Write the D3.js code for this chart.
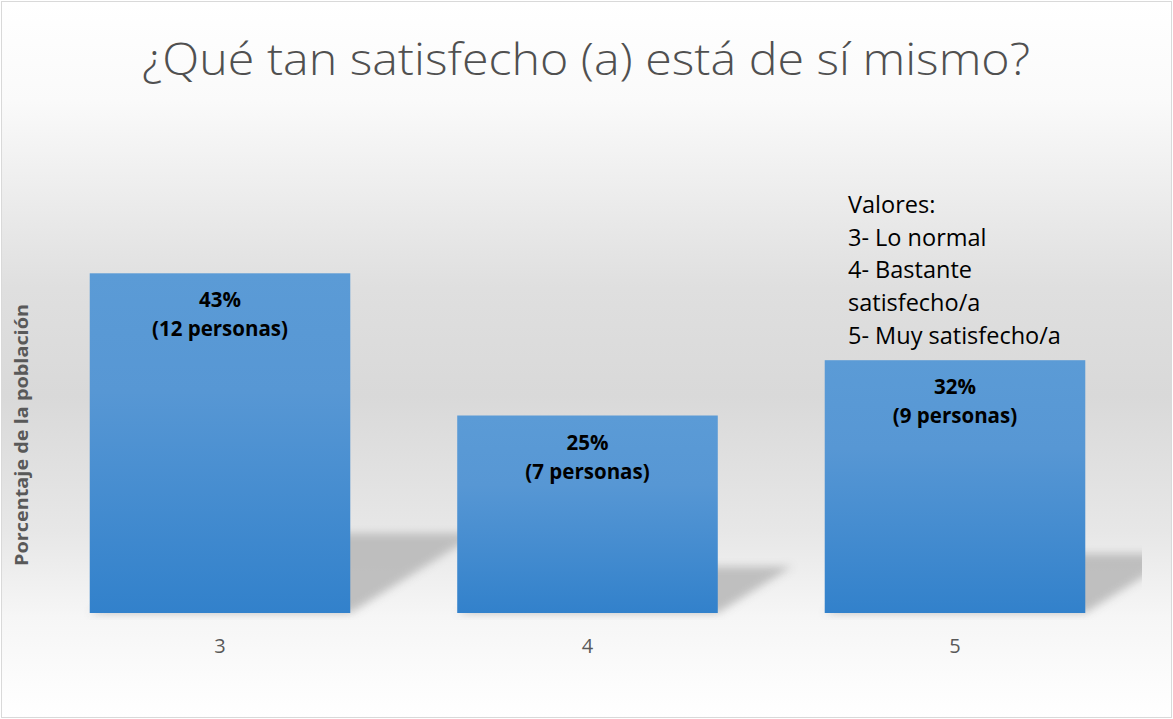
<!DOCTYPE html>
<html>
<head>
<meta charset="utf-8">
<script src="https://cdn.jsdelivr.net/npm/d3@7"></script>
<style>
  html, body { margin: 0; padding: 0; background: #ffffff; }
  svg { display: block; }
</style>
</head>
<body>
<svg id="chart" width="1173" height="719"></svg>
<script>
// ---- Data ----
const categories = ["3", "4", "5"];
const percentages = [43, 25, 32];
const persons = [12, 7, 9];
const titleText = "¿Qué tan satisfecho (a) está de sí mismo?";
const yAxisTitle = "Porcentaje de la población";
const legendLines = ["Valores:", "3- Lo normal", "4- Bastante", "satisfecho/a", "5- Muy satisfecho/a"];

const W = 1173, H = 719;
const svg = d3.select("#chart");
const defs = svg.append("defs");

// background gradient
const bg = defs.append("linearGradient").attr("id", "bgGrad")
  .attr("x1", 0).attr("y1", 0).attr("x2", 0).attr("y2", 1);
[[0, "#ffffff"], [0.14, "#fafafa"], [0.40, "#dfdfdf"], [0.55, "#d9d9d9"],
 [0.74, "#e7e7e7"], [0.86, "#f6f6f6"], [1, "#ffffff"]]
  .forEach(([o, c]) => bg.append("stop").attr("offset", o).attr("stop-color", c));

// bar gradient
const bar = defs.append("linearGradient").attr("id", "barGrad")
  .attr("x1", 0).attr("y1", 0).attr("x2", 0).attr("y2", 1);
[[0, "#5b9bd6"], [0.35, "#5797d4"], [1, "#3281cb"]]
  .forEach(([o, c]) => bar.append("stop").attr("offset", o).attr("stop-color", c));

// shadow blur
const f = defs.append("filter").attr("id", "blur")
  .attr("x", "-20%").attr("y", "-20%").attr("width", "140%").attr("height", "140%");
f.append("feGaussianBlur").attr("stdDeviation", 4.5);

// clip for plot area
defs.append("clipPath").attr("id", "plotClip")
  .append("rect").attr("x", 30).attr("y", 150).attr("width", 1142 - 30).attr("height", 470);

svg.append("rect").attr("x", 1.5).attr("y", 1.5).attr("width", W - 3).attr("height", H - 3)
  .attr("fill", "url(#bgGrad)").attr("stroke", "#d9d9d9").attr("stroke-width", 1);

// ---- Scales ----
const x = d3.scaleBand().domain(categories).range([36.25, 1138.75]).paddingInner(0.291).paddingOuter(0.1455);
const y = d3.scaleLinear().domain([0, 50]).range([613, 218]);

const data = categories.map((c, i) => ({ c, v: percentages[i], p: persons[i] }));

// shadows
const shadowG = svg.append("g").attr("clip-path", "url(#plotClip)");
shadowG.selectAll("polygon").data(data).enter().append("polygon")
  .attr("points", d => {
    const x0 = x(d.c), x1 = x(d.c) + x.bandwidth();
    const base = y(0), h = y(0) - y(d.v);
    const s = 0.235 * h, dx = 1.6 * s;
    return [[x0, base], [x1, base], [x1 + dx, base - s], [x0 + dx, base - s]].map(p => p.join(",")).join(" ");
  })
  .attr("fill", "#bababa")
  .attr("opacity", 0.9)
  .attr("filter", "url(#blur)");

// bars
svg.append("g").selectAll("rect").data(data).enter().append("rect")
  .attr("x", d => x(d.c))
  .attr("y", d => y(d.v))
  .attr("width", x.bandwidth())
  .attr("height", d => y(0) - y(d.v))
  .attr("fill", "url(#barGrad)");

// data labels
const lbl = svg.append("g").attr("font-family", "'Open Sans', sans-serif")
  .attr("font-weight", "bold").attr("font-size", "20.5px").attr("fill", "#000000")
  .attr("text-anchor", "middle");
data.forEach(d => {
  const cx = x(d.c) + x.bandwidth() / 2;
  lbl.append("text").attr("x", cx).attr("y", y(d.v) + 34).text(d.v + "%");
  lbl.append("text").attr("x", cx).attr("y", y(d.v) + 63).text("(" + d.p + " personas)");
});

// x axis (labels only)
const xAxis = svg.append("g").attr("transform", "translate(0,613)")
  .call(d3.axisBottom(x).tickSize(0).tickPadding(0));
xAxis.select(".domain").remove();
xAxis.selectAll("text")
  .attr("y", 40).attr("dy", null)
  .attr("font-family", "'Open Sans', sans-serif").attr("font-size", "20px").attr("fill", "#595959");

// title
svg.append("text")
  .attr("x", 586).attr("y", 75)
  .attr("text-anchor", "middle")
  .attr("font-family", "'Open Sans', sans-serif").attr("font-weight", 300)
  .attr("font-size", "44px").attr("fill", "#505050")
  .attr("textLength", 888).attr("lengthAdjust", "spacingAndGlyphs")
  .text(titleText);

// y axis title
svg.append("text")
  .attr("transform", "translate(28,435) rotate(-90)")
  .attr("text-anchor", "middle")
  .attr("font-family", "'Open Sans', sans-serif").attr("font-weight", "bold")
  .attr("font-size", "18px").attr("fill", "#595959")
  .attr("textLength", 262).attr("lengthAdjust", "spacingAndGlyphs")
  .text(yAxisTitle);

// legend text box
svg.append("g").attr("font-family", "'Open Sans', sans-serif").attr("font-size", "23.5px").attr("fill", "#000000")
  .selectAll("text").data(legendLines).enter().append("text")
  .attr("x", 848).attr("y", (d, i) => 213 + i * 32.7)
  .text(d => d);
</script>
</body>
</html>
